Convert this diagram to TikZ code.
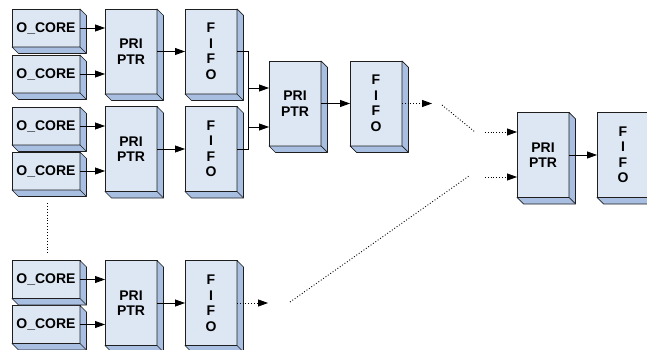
\documentclass[tikz,border=0pt]{standalone}
\usepackage{fontspec}
\setmainfont{Liberation Sans}
\usetikzlibrary{arrows.meta,calc}
\definecolor{BlkFront}{HTML}{DDE6F3}
\definecolor{BlkSide}{HTML}{A8BFE2}
\definecolor{BlkEdge}{HTML}{1E1E1E}

\begin{document}
\begin{tikzpicture}[
  x=1pt,
  y=-1pt,
  blk/.style={
    draw=BlkEdge,
    fill=BlkFront,
    line width=0.7pt,
    inner sep=0pt,
    outer sep=0pt,
    align=center,
    font=\bfseries\fontsize{14}{15.5}\selectfont
  },
  core/.style={blk, minimum width=68pt, minimum height=38pt},
  unit/.style={blk, minimum width=52pt, minimum height=85pt},
  sideface/.style={
    draw=BlkEdge,
    fill=BlkSide,
    line width=0.7pt,
    line join=round
  },
  link/.style={
    -{Triangle[length=10pt,width=7pt]},
    draw=black,
    line width=0.8pt
  },
  dlink/.style={link, dotted},
  dline/.style={draw=black, line width=0.9pt, dotted}
]
\useasboundingbox (0,0) rectangle (647,350);

% first level: cores into priority pointers
\node[core] (oc1) at (46,28) {O\_CORE};
\node[core] (oc2) at (46,74) {O\_CORE};
\node[core] (oc3) at (46,126) {O\_CORE};
\node[core] (oc4) at (46,171) {O\_CORE};
\node[core] (oc5) at (46,279.5) {O\_CORE};
\node[core] (oc6) at (46,324.5) {O\_CORE};

\node[unit] (pp1) at (131,51.5) {PRI\\PTR};
\node[unit] (pp2) at (131,149) {PRI\\PTR};
\node[unit] (pp3) at (131,303) {PRI\\PTR};
\node[unit] (ff1) at (211,51.5) {F\\I\\F\\O};
\node[unit] (ff2) at (211,149) {F\\I\\F\\O};
\node[unit] (ff3) at (211,303) {F\\I\\F\\O};

% second and last level
\node[unit] (ppB) at (295,103.5) {PRI\\PTR};
\node[unit] (ffB) at (376,103.5) {F\\I\\F\\O};
\node[unit] (ppC) at (543,155) {PRI\\PTR};
\node[unit] (ffC) at (623,155) {F\\I\\F\\O};

% 3d extrusion
\foreach \n in {oc1,oc2,oc3,oc4,oc5,oc6,pp1,pp2,pp3,ff1,ff2,ff3,ppB,ffB,ppC,ffC} {
  \draw[sideface] (\n.north east) -- ++(6.5,6.5)
    -- ([shift={(6.5,6.5)}]\n.south east)
    -- ([shift={(6.5,6.5)}]\n.south west)
    -- (\n.south west) -- (\n.south east) -- cycle;
  \draw[sideface] (\n.south east) -- ++(6.5,6.5);
}

\foreach \c/\p in {oc1/pp1,oc2/pp1,oc3/pp2,oc4/pp2,oc5/pp3,oc6/pp3} {
  \draw[link] (\c.east) -- (\c.east -| \p.west);
}
\foreach \p/\f in {pp1/ff1,pp2/ff2,pp3/ff3,ppB/ffB,ppC/ffC} {
  \draw[link] (\p) -- (\f);
}

\draw[link] (ff1.east) -- ++(11,0) |- ([yshift=-23.5]ppB.west);
\draw[link] (ff2.east) -- ++(11,0) |- ([yshift=15.5]ppB.west);

% dotted continuation
\coordinate (tB) at (432,103.5);
\coordinate (dB1) at (442,105);
\coordinate (dB2) at (475,132);
\coordinate (sC1) at (485,132);
\coordinate (t3) at (268,303);
\coordinate (d31) at (290,302);
\coordinate (d32) at (469,176);
\coordinate (sC2) at (485,177);
\coordinate (v1) at (47,203);
\coordinate (v2) at (47,253);

\draw[dlink] (ffB.east) -- (tB);
\draw[dline] (dB1) -- (dB2);
\draw[dlink] (sC1) -- (sC1 -| ppC.west);
\draw[dlink] (ff3.east) -- (t3);
\draw[dline] (d31) -- (d32);
\draw[dlink] (sC2) -- (sC2 -| ppC.west);
\draw[dline] (v1) -- (v2);

\end{tikzpicture}
\end{document}
